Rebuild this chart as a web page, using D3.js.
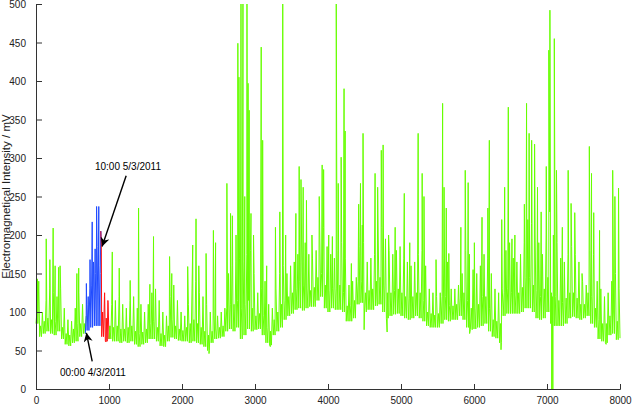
<!DOCTYPE html>
<html>
<head>
<meta charset="utf-8">
<script src="https://cdn.jsdelivr.net/npm/d3@7"></script>
<style>
  html, body { margin: 0; padding: 0; background: #ffffff; }
  svg { display: block; }
  text { font-family: "Liberation Sans", Arial, Helvetica, sans-serif; }
</style>
</head>
<body>
<svg id="chart" width="632" height="405"></svg>
<script>
// ---- data ----
const binWidth = 50; // each bin: low, core-top, low, high samples
const bandLow = [
  85,68,72,75,72,70,75,65,58,56, 60,62,68,72,76,80,82,82,68,62,
  65,62,62,60,62,60,62,58,55,58, 60,65,65,62,56,55,62,67,65,63,
  62,62,60,62,60,58,55,50,60,65, 66,68,75,78,75,80,65,70,78,75,
  77,78,70,60,57,70,75,80,90,95, 98,103,105,102,105,107,107,115,120,105,
  100,105,103,103,100,88,88,92,110,112, 100,103,103,108,110,100,92,95,97,98,
  95,92,90,92,95,92,88,82,80,80, 80,85,90,88,90,90,95,90,80,77,
  78,80,82,85,75,68,66,60,95,98, 98,98,98,100,105,105,100,92,90,92,
  100,85,82,82,82,85,92,94,92,90, 92,95,85,80,65,62,60,70,72,64
];
const bandCore = [
  100,82,88,92,90,88,92,80,72,70, 78,85,85,85,110,135,150,160,100,92,
  82,80,82,78,78,80,82,75,72,74, 78,85,88,80,72,70,82,90,82,78,
  76,80,85,90,85,80,75,70,75,78, 80,82,105,110,110,115,105,110,115,105,
  95,98,95,80,75,90,100,110,115,120, 125,130,140,135,130,128,132,145,150,135,
  128,130,130,135,125,108,108,115,140,140, 125,128,130,140,145,135,125,125,128,130,
  125,120,118,120,125,125,115,100,98,96, 98,120,120,108,108,110,118,125,115,105,
  105,110,120,120,105,90,88,85,125,130, 125,122,125,132,145,145,135,128,120,130,
  145,125,120,115,112,118,125,125,118,110, 110,125,120,105,90,85,85,95,100,88
];
const bandHigh = [
  140,100,115,130,125,120,130,105,90,88, 105,125,110,95,130,165,185,205,120,112,
  110,115,120,110,105,115,120,105,110,100, 110,125,130,115,100,95,120,135,115,100,
  95,110,130,140,125,120,110,100,95,95, 100,105,150,160,165,170,165,175,180,150,
  125,130,140,110,105,130,150,160,150,160, 165,175,200,190,175,170,180,200,210,185,
  175,170,180,190,170,135,140,145,185,190, 165,170,175,200,210,195,180,175,180,185,
  170,165,160,165,175,180,160,130,125,120, 125,170,165,130,130,135,150,180,175,155,
  150,160,175,170,150,130,125,130,180,190, 170,165,175,190,220,215,200,190,175,200,
  230,200,190,170,165,175,185,175,165,140, 135,180,175,140,130,120,125,140,150,130
];
const endValue = 66;
// isolated spikes / dips: [x, value]
const spikes = [
  [20,143],[140,195],[190,168],[235,209],[262,160],[310,158],[330,160],[560,150],[585,157],
  [690,137],[715,120],[740,168],[770,217],[790,160],[810,182],[830,237],[860,237],[880,150],
  [895,186],[940,125],[960,61],[985,115],
  [1045,178],[1140,157],[1290,141],[1405,235],[1560,136],[1610,198],[1830,172],[1860,150],
  [2078,159],[2147,187],[2192,221],[2230,160],[2330,176],[2370,46],[2430,206],[2460,190],
  [2615,267],[2665,228],[2690,225],[2740,200],[2765,449],[2780,405],[2808,500],[2835,500],
  [2860,250],[2890,500],[2905,397],[2920,362],[2945,228],[2980,200],[3085,444],[3105,323],
  [3160,160],[3210,55],[3280,210],[3340,230],[3380,500],[3420,200],[3560,228],[3605,289],
  [3630,272],[3660,262],[3705,245],[3780,200],[3880,250],[3920,291],[3940,285],[4010,200],
  [4060,198],[4113,500],[4140,267],[4180,301],[4220,390],[4235,335],[4320,163],[4420,240],
  [4445,267],[4470,213],[4480,332],[4495,77],[4645,280],[4680,262],[4730,310],[4755,317],
  [4810,74],[4830,200],[4920,210],[5045,254],[5120,190],[5235,332],[5290,280],[5315,250],
  [5480,168],[5570,371],[5590,262],[5620,235],[5655,176],[5820,210],[5880,284],[5920,268],
  [5940,72],[6005,190],[6110,223],[6190,235],[6210,323],[6370,51],[6380,220],[6420,262],
  [6470,366],[6520,195],[6560,200],[6690,240],[6720,371],[6755,332],[6790,323],[6830,318],
  [6870,262],[6920,230],[6990,289],[7025,440],[7040,492],[7065,0],[7072,120],[7080,0],[7100,455],
  [7130,284],[7210,210],[7290,284],[7330,241],[7380,229],[7480,150],[7580,315],[7610,280],
  [7640,229],[7720,206],[7810,58],[7900,284],[7930,250],[7980,261]
];
// colour segments
const segmentBreaks = [0, 680, 890, 1010, 8000];
const segmentColors = ["#66ff00", "#1f4bff", "#ff1010", "#66ff00"];
const xTicks = [0,1000,2000,3000,4000,5000,6000,7000,8000];
const yTicks = [0,50,100,150,200,250,300,350,400,450,500];
const annotations = [
  { text: "10:00 5/3/2011", tx: 1260, ty: 284, x1: 1235, y1: 277, x2: 905, y2: 185 },
  { text: "00:00 4/3/2011", tx: 780, ty: 17, x1: 770, y1: 36, x2: 690, y2: 73 }
];

// ---- build the series ----
const q = binWidth / 4;
let points = [];
bandLow.forEach((v, i) => {
  const x0 = i * binWidth;
  points.push({ x: x0, y: v });
  points.push({ x: x0 + q, y: bandCore[i] });
  points.push({ x: x0 + 2 * q, y: v });
  points.push({ x: x0 + 3 * q, y: bandHigh[i] });
});
points.push({ x: 8000, y: endValue });
spikes.forEach(s => points.push({ x: s[0] + 0.01, y: s[1] }));
points.sort((a, b) => a.x - b.x);

// ---- drawing ----
const svg = d3.select("#chart");
const margin = { left: 36, right: 12, top: 4, bottom: 16 };
const W = 632, H = 405;
const x = d3.scaleLinear().domain([0, 8000]).range([margin.left, W - margin.right]);
const y = d3.scaleLinear().domain([0, 500]).range([H - margin.bottom, margin.top]);

const line = d3.line().x(d => x(d.x)).y(d => y(d.y));

for (let s = 0; s < segmentColors.length; s++) {
  const a = segmentBreaks[s], b = segmentBreaks[s + 1];
  let i0 = 0;
  for (let i = 0; i < points.length; i++) if (points[i].x <= a) i0 = i;
  let i1 = points.length - 1;
  for (let i = points.length - 1; i >= 0; i--) if (points[i].x >= b) i1 = i;
  const seg = points.slice(i0, i1 + 1);
  svg.append("path")
    .datum(seg)
    .attr("fill", "none")
    .attr("stroke", segmentColors[s])
    .attr("stroke-width", 1)
    .attr("stroke-linejoin", "bevel")
    .attr("d", line);
}

// axes
const xAxis = d3.axisBottom(x).tickValues(xTicks).tickSize(-5).tickPadding(8).tickFormat(d3.format("d"));
const yAxis = d3.axisLeft(y).tickValues(yTicks).tickSize(-6).tickPadding(10).tickFormat(d3.format("d"));

const gx = svg.append("g").attr("transform", `translate(0,${y(0)})`).call(xAxis);
const gy = svg.append("g").attr("transform", `translate(${x(0)},0)`).call(yAxis);
[gx, gy].forEach(g => {
  g.select(".domain").attr("stroke", "#333").attr("stroke-width", 1);
  g.selectAll(".tick line").attr("stroke", "#333");
  g.selectAll("text").attr("font-size", 10).attr("fill", "#222")
    .attr("font-family", "'Liberation Sans', Arial, sans-serif");
});
gy.selectAll("text").attr("dy", "0.35em");

// y-axis label
svg.append("text")
  .attr("transform", `translate(10,${(y(0) + y(500)) / 2}) rotate(-90)`)
  .attr("text-anchor", "middle")
  .attr("font-size", 11.5)
  .attr("fill", "#222")
  .text("Electromagnetical  Intensity / mV");

// annotations with arrows
const defs = svg.append("defs");
defs.append("marker")
  .attr("id", "arrow").attr("viewBox", "0 0 10 10")
  .attr("refX", 10).attr("refY", 5)
  .attr("markerWidth", 10).attr("markerHeight", 9)
  .attr("markerUnits", "userSpaceOnUse")
  .attr("orient", "auto")
  .append("path").attr("d", "M0,0 L10,5 L0,10 L3,5 Z").attr("fill", "#000");

annotations.forEach(a => {
  svg.append("line")
    .attr("x1", x(a.x1)).attr("y1", y(a.y1))
    .attr("x2", x(a.x2)).attr("y2", y(a.y2))
    .attr("stroke", "#000").attr("stroke-width", 1.4)
    .attr("marker-end", "url(#arrow)");
  svg.append("text")
    .attr("x", x(a.tx)).attr("y", y(a.ty))
    .attr("text-anchor", "middle")
    .attr("font-size", 10)
    .attr("fill", "#000")
    .text(a.text);
});
</script>
</body>
</html>
